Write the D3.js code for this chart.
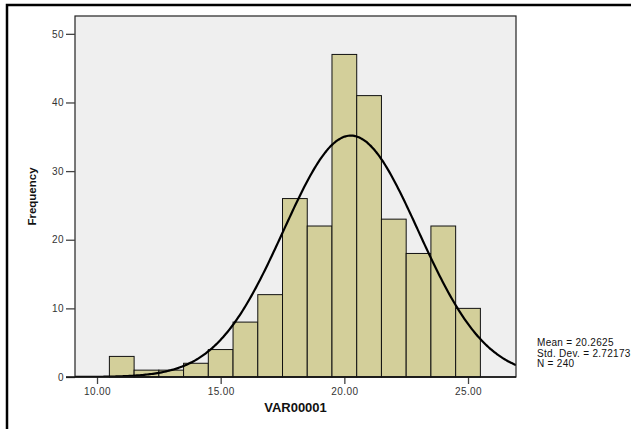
<!DOCTYPE html>
<html>
<head>
<meta charset="utf-8">
<script src="https://cdn.jsdelivr.net/npm/d3@7"></script>
<style>
  body { margin: 0; background: #fff; }
  svg { display: block; font-family: "Liberation Sans", Arial, sans-serif; }
</style>
</head>
<body>
<svg width="631" height="429"></svg>
<script>
// histogram bins (centre of each 1-unit bin) and their counts
var binCenters = [10, 11, 12, 13, 14, 15, 16, 17, 18, 19, 20, 21, 22, 23, 24, 25];
var counts     = [0, 3, 1, 1, 2, 4, 8, 12, 26, 22, 47, 41, 23, 18, 22, 10];
var xTicks = [10, 15, 20, 25];
var yTicks = [0, 10, 20, 30, 40, 50];
var mean = 20.2625, sd = 2.72173, n = 240;
var statLines = ["Mean = 20.2625", "Std. Dev. = 2.72173", "N = 240"];

var svg = d3.select("svg");

// outer frame (runs off the right/bottom edge like the original)
svg.append("path")
    .attr("d", "M7,440 V5 H640")
    .attr("fill", "none")
    .attr("stroke", "#000")
    .attr("stroke-width", 2.5);

var plot = {left: 75, top: 16, right: 516, bottom: 377};

var x = d3.scaleLinear()
    .domain([9.11, 26.94])
    .range([plot.left, plot.right]);

var y = d3.scaleLinear()
    .domain([0, 52.6])
    .range([plot.bottom, plot.top]);

svg.append("rect")
    .attr("x", plot.left)
    .attr("y", plot.top)
    .attr("width", plot.right - plot.left)
    .attr("height", plot.bottom - plot.top)
    .attr("fill", "#efefef");

svg.append("clipPath").attr("id", "clip")
  .append("rect")
    .attr("x", plot.left)
    .attr("y", plot.top)
    .attr("width", plot.right - plot.left)
    .attr("height", plot.bottom - plot.top);

// bars
svg.append("g")
  .selectAll("rect")
  .data(binCenters.map(function(c, i) { return {c: c, n: counts[i]}; }).filter(function(d) { return d.n > 0; }))
  .enter().append("rect")
    .attr("x", function(d) { return x(d.c - 0.5); })
    .attr("width", function(d) { return x(d.c + 0.5) - x(d.c - 0.5); })
    .attr("y", function(d) { return y(d.n); })
    .attr("height", function(d) { return y(0) - y(d.n); })
    .attr("fill", "#d3cf9a")
    .attr("stroke", "#111")
    .attr("stroke-width", 1);

// normal curve scaled to counts (bin width 1)
var curveData = d3.range(0, 301).map(function(i) {
  var v = x.domain()[0] + (x.domain()[1] - x.domain()[0]) * i / 300;
  var z = (v - mean) / sd;
  return [v, n / (sd * Math.sqrt(2 * Math.PI)) * Math.exp(-z * z / 2)];
});

svg.append("path")
    .datum(curveData)
    .attr("clip-path", "url(#clip)")
    .attr("fill", "none")
    .attr("stroke", "#000")
    .attr("stroke-width", 2.2)
    .attr("d", d3.line()
        .curve(d3.curveBasis)
        .x(function(d) { return x(d[0]); })
        .y(function(d) { return y(d[1]); }));

// plot frame
svg.append("rect")
    .attr("x", plot.left)
    .attr("y", plot.top)
    .attr("width", plot.right - plot.left)
    .attr("height", plot.bottom - plot.top)
    .attr("fill", "none")
    .attr("stroke", "#222")
    .attr("stroke-width", 1.2);

// axes
var yAxis = svg.append("g")
    .attr("transform", "translate(" + plot.left + ",0)")
    .call(d3.axisLeft(y).tickValues(yTicks).tickSize(9).tickPadding(2));

var xAxis = svg.append("g")
    .attr("transform", "translate(0," + plot.bottom + ")")
    .call(d3.axisBottom(x).tickValues(xTicks).tickSize(7).tickPadding(4)
        .tickFormat(d3.format(".2f")));

[yAxis, xAxis].forEach(function(a) {
  a.select(".domain").remove();
  a.selectAll(".tick line").attr("stroke", "#444").attr("stroke-width", 1.3);
  a.selectAll(".tick text")
      .attr("fill", "#333")
      .style("font-size", "10px")
      .style("letter-spacing", "0.4px")
      .style("font-family", "'Liberation Sans', Arial, sans-serif");
});

// extend baseline to the left of the plot like the original
svg.append("line")
    .attr("x1", plot.left - 9).attr("x2", plot.right)
    .attr("y1", plot.bottom).attr("y2", plot.bottom)
    .attr("stroke", "#111").attr("stroke-width", 1.5);

// axis titles
svg.append("text")
    .attr("x", (plot.left + plot.right) / 2)
    .attr("y", 412)
    .attr("text-anchor", "middle")
    .style("font-size", "13px")
    .style("font-weight", "bold")
    .attr("fill", "#111")
    .text("VAR00001");

svg.append("text")
    .attr("transform", "translate(36," + ((plot.top + plot.bottom) / 2) + ") rotate(-90)")
    .attr("text-anchor", "middle")
    .style("font-size", "11.5px")
    .style("font-weight", "bold")
    .attr("fill", "#111")
    .text("Frequency");

// summary statistics
svg.append("g")
  .selectAll("text")
  .data(statLines)
  .enter().append("text")
    .attr("x", 537)
    .attr("y", function(d, i) { return 346 + i * 10.5; })
    .style("font-size", "10px")
    .style("letter-spacing", "0.3px")
    .attr("fill", "#111")
    .text(function(d) { return d; });
</script>
</body>
</html>
